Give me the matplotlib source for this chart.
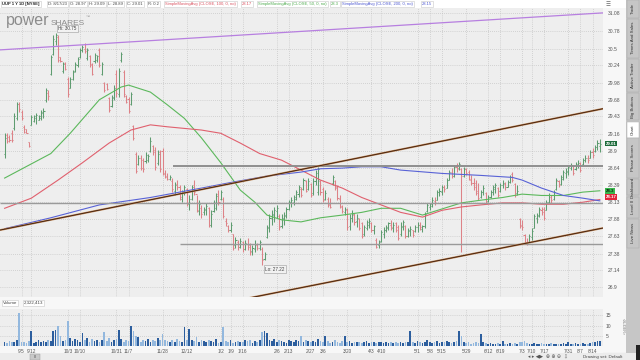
import numpy as np
import pandas as pd
import matplotlib
matplotlib.use('Agg')
import matplotlib.pyplot as plt
from matplotlib.collections import LineCollection
from matplotlib.patches import Rectangle
from matplotlib.ticker import FixedLocator, NullLocator, FixedFormatter

plt.rcParams['font.family'] = ['Liberation Sans', 'DejaVu Sans']

# ---------------- data ----------------
holidays = ['2022-09-05', '2022-11-24', '2022-12-26', '2023-01-02', '2023-01-16',
            '2023-02-20', '2023-04-07', '2023-05-29', '2023-06-19', '2023-07-04']
first_day, last_day = '2022-08-25', '2023-08-17'

opens = [28.85, 29.15, 29.12, 29.18, 29.25, 29.40, 29.62, 29.50, 29.27, 29.23,
         29.03, 29.30, 29.36, 29.40, 29.38, 29.40, 29.48, 29.68, 29.80, 30.10,
         30.42, 30.62, 30.68, 30.36, 30.14, 30.27, 30.02, 29.88, 30.02, 30.15,
         30.24, 30.37, 30.48, 30.50, 30.35, 30.38, 30.25, 30.30, 30.32, 30.48,
         30.10, 29.95, 29.93, 29.72, 29.60, 29.72, 30.10, 29.78, 30.32, 30.12,
         29.75, 29.70, 29.63, 29.28, 28.85, 28.70, 28.80, 28.76, 28.74, 28.76,
         28.90, 28.97, 28.92, 28.72, 28.88, 28.90, 28.55, 28.50, 28.48, 28.45,
         28.30, 28.40, 28.35, 28.18, 28.28, 28.32, 28.10, 28.18, 28.38, 28.25,
         28.00, 28.05, 27.98, 28.02, 28.04, 27.80, 28.00, 28.04, 28.25, 28.18,
         28.18, 27.86, 27.78, 27.72, 27.66, 27.50, 27.55, 27.48, 27.54, 27.45,
         27.52, 27.50, 27.42, 27.45, 27.50, 27.46, 27.45, 27.30, 27.62, 27.75,
         27.90, 27.94, 28.00, 27.92, 27.78, 27.88, 27.92, 28.03, 28.12, 28.14,
         28.18, 28.25, 28.33, 28.33, 28.44, 28.33, 28.40, 28.26, 28.45, 28.28,
         28.44, 28.33, 28.18, 28.18, 28.10, 28.41, 28.44, 28.36, 28.18, 28.06,
         27.98, 28.02, 27.78, 27.90, 27.94, 27.86, 27.88, 27.82, 27.66, 27.75,
         27.80, 27.82, 27.72, 27.58, 27.50, 27.56, 27.66, 27.72, 27.75, 27.80,
         27.75, 27.82,
         27.76, 27.66, 27.76, 27.78, 27.64, 27.70, 27.72,
         27.70, 27.76, 27.80, 27.74, 27.78, 28.00, 28.06, 28.08, 28.15, 28.17,
         28.28, 28.28, 28.35, 28.34, 28.46, 28.58, 28.52, 28.66, 28.64, 28.62,
         28.52, 28.62, 28.58, 28.46, 28.42, 28.42, 28.30, 28.20, 28.28, 28.26,
         28.15, 28.20, 28.28, 28.32, 28.34, 28.30, 28.38, 28.40, 28.36, 28.43,
         28.55, 28.40, 28.26, 27.88, 27.80, 27.65, 27.55, 27.54, 27.62, 27.75,
         27.90, 27.92, 28.02, 28.03, 28.02, 28.13, 28.20, 28.18, 28.32, 28.44,
         28.40, 28.48, 28.56, 28.58, 28.64, 28.67, 28.62, 28.68, 28.72, 28.70,
         28.76, 28.80, 28.80, 28.88, 28.90, 28.96, 28.97]

highs = [29.17, 29.17, 29.14, 29.22, 29.48, 29.66, 29.66, 29.53, 29.29, 29.24,
         29.04, 29.45, 29.45, 29.48, 29.45, 29.53, 29.56, 29.87, 29.84, 30.40,
         30.72, 30.75, 30.72, 30.37, 30.29, 30.29, 30.05, 30.05, 30.16, 30.29,
         30.37, 30.51, 30.56, 30.59, 30.51, 30.40, 30.27, 30.43, 30.40, 30.51,
         30.29, 29.97, 29.95, 29.74, 29.77, 29.92, 30.16, 30.19, 30.45, 30.16,
         29.77, 29.74, 29.81, 29.30, 28.88, 28.84, 28.84, 28.80, 28.88, 28.86,
         29.11, 28.99, 28.96, 28.91, 28.91, 28.94, 28.61, 28.56, 28.53, 28.49,
         28.43, 28.46, 28.39, 28.31, 28.39, 28.34, 28.23, 28.39, 28.46, 28.23,
         28.16, 28.09, 28.06, 28.12, 28.06, 28.01, 28.16, 28.27, 28.31, 28.31,
         28.20, 27.89, 27.80, 27.84, 27.67, 27.62, 27.57, 27.60, 27.56, 27.57,
         27.60, 27.53, 27.50, 27.57, 27.53, 27.57, 27.47, 27.40, 27.80, 27.95,
         28.01, 28.06, 28.09, 27.95, 27.95, 27.98, 28.06, 28.16, 28.20, 28.23,
         28.31, 28.39, 28.36, 28.49, 28.46, 28.49, 28.41, 28.49, 28.61, 28.65,
         28.46, 28.36, 28.31, 28.20, 28.19, 28.53, 28.46, 28.39, 28.23, 28.09,
         28.06, 28.04, 27.95, 28.01, 27.97, 27.95, 27.90, 27.84, 27.80, 27.87,
         27.90, 27.84, 27.80, 27.60, 27.57, 27.72, 27.76, 27.80, 27.84, 27.87,
         27.84, 27.84,
         27.80, 27.84, 27.87, 27.80, 27.75, 27.78, 27.72,
         27.80, 27.84, 27.84, 27.80, 27.98, 28.12, 28.12, 28.20, 28.20, 28.31,
         28.34, 28.39, 28.39, 28.49, 28.61, 28.64, 28.69, 28.72, 28.73, 28.64,
         28.65, 28.64, 28.61, 28.53, 28.49, 28.46, 28.41, 28.31, 28.39, 28.28,
         28.23, 28.31, 28.39, 28.41, 28.36, 28.41, 28.46, 28.43, 28.46, 28.53,
         28.58, 28.41, 28.39, 27.90, 27.87, 27.67, 27.60, 27.67, 27.75, 27.95,
         27.97, 28.06, 28.06, 28.06, 28.16, 28.27, 28.23, 28.31, 28.49, 28.46,
         28.53, 28.61, 28.64, 28.69, 28.72, 28.69, 28.73, 28.76, 28.73, 28.80,
         28.84, 28.84, 28.91, 28.94, 28.99, 29.07, 29.09]

lows = [28.80, 29.02, 29.04, 29.04, 29.22, 29.37, 29.50, 29.37, 29.17, 29.17,
        28.96, 29.29, 29.34, 29.32, 29.37, 29.37, 29.40, 29.66, 29.69, 30.08,
        30.40, 30.56, 30.28, 30.28, 30.11, 30.16, 29.74, 29.87, 30.00, 30.13,
        30.21, 30.35, 30.45, 30.43, 30.32, 30.21, 30.08, 30.27, 30.29, 30.21,
        30.08, 29.81, 29.84, 29.50, 29.58, 29.69, 29.74, 29.74, 30.29, 29.74,
        29.64, 29.48, 29.61, 29.07, 28.56, 28.68, 28.61, 28.58, 28.72, 28.73,
        28.88, 28.84, 28.61, 28.68, 28.58, 28.53, 28.49, 28.46, 28.46, 28.28,
        28.23, 28.31, 28.16, 28.13, 28.23, 28.08, 28.01, 28.16, 28.23, 27.98,
        27.94, 27.89, 27.94, 27.94, 27.76, 27.76, 27.98, 28.01, 28.09, 28.16,
        27.89, 27.78, 27.69, 27.69, 27.43, 27.46, 27.43, 27.46, 27.40, 27.43,
        27.43, 27.36, 27.36, 27.40, 27.43, 27.43, 27.22, 27.29, 27.60, 27.69,
        27.80, 27.84, 27.89, 27.72, 27.75, 27.80, 27.89, 28.01, 28.06, 28.09,
        28.16, 28.20, 28.20, 28.31, 28.28, 28.31, 28.20, 28.23, 28.39, 28.23,
        28.23, 28.13, 28.16, 28.06, 28.04, 28.39, 28.31, 28.16, 28.04, 27.97,
        27.94, 27.72, 27.72, 27.84, 27.80, 27.76, 27.72, 27.60, 27.64, 27.72,
        27.75, 27.69, 27.67, 27.46, 27.46, 27.54, 27.60, 27.69, 27.72, 27.72,
        27.69, 27.69,
        27.57, 27.64, 27.72, 27.60, 27.62, 27.64, 27.62,
        27.69, 27.69, 27.72, 27.69, 27.75, 27.98, 28.01, 28.06, 28.09, 28.16,
        28.22, 28.23, 28.28, 28.34, 28.46, 28.49, 28.50, 28.58, 28.61, 27.40,
        28.50, 28.53, 28.46, 28.39, 28.31, 28.23, 28.16, 28.19, 28.23, 28.12,
        28.13, 28.19, 28.23, 28.26, 28.20, 28.28, 28.34, 28.31, 28.35, 28.41,
        28.43, 28.20, 28.23, 27.75, 27.72, 27.52, 27.50, 27.54, 27.57, 27.75,
        27.83, 27.91, 27.94, 27.87, 28.01, 28.12, 28.12, 28.16, 28.31, 28.35,
        28.39, 28.46, 28.49, 28.53, 28.61, 28.53, 28.61, 28.64, 28.58, 28.69,
        28.73, 28.72, 28.79, 28.80, 28.88, 28.91, 28.89]

closes = [29.10, 29.05, 29.06, 29.06, 29.44, 29.62, 29.55, 29.40, 29.19, 29.18,
          28.98, 29.42, 29.43, 29.45, 29.44, 29.50, 29.52, 29.84, 29.75, 30.36,
          30.65, 30.72, 30.32, 30.30, 30.26, 30.18, 29.78, 30.02, 30.13, 30.26,
          30.34, 30.48, 30.52, 30.46, 30.48, 30.24, 30.10, 30.40, 30.38, 30.24,
          30.26, 29.84, 29.86, 29.53, 29.74, 29.88, 29.80, 30.14, 30.42, 29.78,
          29.66, 29.52, 29.78, 29.10, 28.59, 28.80, 28.64, 28.62, 28.84, 28.83,
          29.05, 28.88, 28.65, 28.86, 28.62, 28.56, 28.52, 28.48, 28.51, 28.32,
          28.38, 28.35, 28.20, 28.28, 28.36, 28.12, 28.18, 28.35, 28.28, 28.02,
          28.10, 27.95, 28.03, 28.08, 27.80, 27.96, 28.12, 28.22, 28.14, 28.28,
          27.92, 27.82, 27.72, 27.80, 27.46, 27.58, 27.48, 27.56, 27.44, 27.53,
          27.48, 27.40, 27.46, 27.52, 27.46, 27.54, 27.28, 27.38, 27.76, 27.90,
          27.96, 28.02, 28.05, 27.76, 27.90, 27.94, 28.03, 28.13, 28.16, 28.20,
          28.28, 28.35, 28.24, 28.46, 28.30, 28.44, 28.24, 28.45, 28.56, 28.62,
          28.28, 28.16, 28.26, 28.09, 28.06, 28.50, 28.34, 28.19, 28.07, 28.00,
          28.03, 27.76, 27.90, 27.96, 27.84, 27.90, 27.75, 27.64, 27.76, 27.84,
          27.86, 27.72, 27.78, 27.48, 27.54, 27.69, 27.72, 27.76, 27.82, 27.76,
          27.80, 27.72,
          27.60, 27.78, 27.84, 27.63, 27.72, 27.74, 27.65,
          27.77, 27.80, 27.76, 27.78, 27.95, 28.09, 28.10, 28.17, 28.12, 28.28,
          28.30, 28.36, 28.32, 28.46, 28.58, 28.52, 28.66, 28.62, 28.70, 28.52,
          28.62, 28.56, 28.48, 28.42, 28.36, 28.26, 28.19, 28.28, 28.34, 28.14,
          28.20, 28.28, 28.35, 28.38, 28.23, 28.38, 28.42, 28.35, 28.43, 28.50,
          28.46, 28.24, 28.30, 27.78, 27.76, 27.55, 27.52, 27.64, 27.70, 27.92,
          27.94, 28.03, 27.98, 27.90, 28.13, 28.24, 28.16, 28.28, 28.46, 28.38,
          28.50, 28.58, 28.60, 28.66, 28.68, 28.56, 28.70, 28.72, 28.61, 28.77,
          28.80, 28.76, 28.88, 28.84, 28.96, 29.02, 29.01]

# volume in millions of shares
volumes = [2.0, 1.5, 2.5, 1.8, 2.2, 3.0, 16.0, 1.8, 2.0, 1.5,
           2.5, 7.5, 1.5, 2.0, 3.0, 1.8, 2.5, 2.0, 3.0, 2.5,
           7.5, 7.8, 10.0, 5.0, 2.5, 3.0, 12.0, 4.0, 2.5, 3.5,
           3.0, 2.0, 6.5, 3.0, 4.0, 2.0, 3.5, 2.5, 3.0, 2.0,
           3.0, 7.0, 2.5, 4.0, 2.0, 3.0, 3.5, 8.0, 3.5, 2.0,
           3.0, 2.5, 10.0, 7.5, 5.0, 4.5, 2.0, 3.0, 2.5, 3.5,
           2.0, 3.0, 2.5, 4.0, 3.0, 6.0, 3.0, 2.5, 2.0, 3.0,
           2.0, 3.5, 2.5, 2.0, 9.5, 3.0, 8.5, 3.0, 2.5, 4.5,
           2.0, 3.0, 2.5, 2.0, 3.0, 2.5, 2.0, 3.5, 1.5, 2.0,
           9.5, 2.5, 2.0, 3.0, 1.5, 2.0, 2.5, 1.8, 2.0, 3.0,
           2.5, 3.0, 1.5, 2.5, 2.0, 3.0, 7.0, 7.5, 6.5, 3.0,
           2.5, 3.5, 2.0, 3.0, 2.5, 2.0, 1.5, 3.0, 2.5, 2.0,
           3.0, 2.5, 5.0, 2.0, 3.0, 2.5, 1.8, 2.5, 2.0, 3.5,
           2.5, 2.0, 5.0, 2.5, 1.5, 2.0, 3.0, 2.0, 1.5, 2.5,
           5.0, 2.0, 2.5, 1.5, 2.0, 1.8, 2.2, 1.5, 2.0, 2.5,
           1.5, 1.8, 2.0, 1.5, 2.2, 1.8, 1.5, 2.0, 1.5, 1.8,
           1.5, 1.8,
           1.5, 2.0, 1.5, 1.8, 2.0, 7.5, 2.0,
           1.5, 2.5, 1.8, 1.5, 2.0, 3.0, 2.0, 1.5, 2.0, 2.5,
           1.5, 1.8, 2.0, 2.5, 2.0, 1.5, 2.0, 2.5, 7.5, 5.0,
           2.0, 1.5, 1.8, 1.2, 1.5, 2.0, 1.5, 6.0, 2.0, 1.5,
           1.2, 1.5, 1.0, 1.2, 1.5, 1.0, 2.5, 1.2, 1.0, 1.5,
           1.2, 1.5, 1.0, 2.0, 1.8, 2.5, 1.5, 1.2, 1.0, 1.5,
           1.2, 1.0, 1.5, 1.2, 1.0, 1.2, 1.5, 1.0, 0.8, 1.2,
           1.0, 1.5, 1.2, 1.8, 1.0, 1.2, 1.5, 1.0, 1.2, 1.5,
           1.2, 1.0, 1.5, 2.0, 1.8, 2.5, 2.32]

# moving averages read at sample bars (bar index, value)
sma50_idx = [0, 19, 27, 39, 48, 51, 60, 67, 74, 81, 89, 97, 103, 108, 114, 122, 130,
             139, 147, 155, 163, 172, 180, 188, 196, 205, 213, 221, 230, 238, 245]
sma50_val = [28.49, 28.86, 29.17, 29.69, 29.89, 29.92, 29.81, 29.61, 29.40, 29.10, 28.72,
             28.31, 28.13, 27.94, 27.87, 27.84, 27.90, 27.94, 27.98, 28.04, 28.04, 27.94,
             28.03, 28.12, 28.16, 28.20, 28.25, 28.23, 28.23, 28.28, 28.30]
sma100_idx = [0, 11, 22, 32, 43, 52, 60, 67, 81, 89, 97, 105, 114, 122, 130, 139, 147,
              155, 163, 172, 180, 188, 196, 205, 213, 221, 230, 238, 245]
sma100_val = [28.04, 28.19, 28.46, 28.72, 29.02, 29.22, 29.30, 29.27, 29.22, 29.17, 29.02,
              28.86, 28.76, 28.61, 28.46, 28.34, 28.20, 28.09, 27.98, 27.91, 28.01, 28.06,
              28.09, 28.12, 28.12, 28.10, 28.10, 28.13, 28.17]
sma200_idx = [0, 19, 39, 60, 81, 94, 108, 122, 130, 139, 147, 155, 163, 180, 196, 209,
              213, 221, 230, 238, 245]
sma200_val = [27.74, 27.90, 28.09, 28.20, 28.34, 28.43, 28.52, 28.58, 28.63, 28.64, 28.66,
              28.66, 28.61, 28.56, 28.53, 28.50, 28.46, 28.34, 28.23, 28.19, 28.15]

# drawings (bar index, price)
channel_upper = [(-1.9, 27.72), (246.3, 29.55)]
channel_lower = [(99.7, 26.74), (246.3, 27.75)]
purple_line = [(-1.9, 30.48), (246.3, 31.08)]
level_lines = [(69.3, 28.67), (-1.9, 28.12), (72.2, 27.52)]

price_ticks = [26.9, 27.14, 27.38, 27.63, 27.88, 28.13, 28.39, 28.64, 28.9, 29.16,
               29.43, 29.68, 29.96, 30.24, 30.5, 30.78, 31.08]
price_tick_labels = ['26.9', '27.14', '27.38', '27.63', '27.88', '28.13', '28.39', '28.64',
                     '28.9', '29.16', '29.43', '29.68', '29.98', '30.24', '30.5', '30.78',
                     '31.08']
date_labels = ['9/5', '9/12', '10/3', '10/10', '10/31', '11/7', '11/28', '12/12', '1/2',
               '1/9', '1/16', '2/6', '2/13', '2/27', '3/6', '3/20', '4/3', '4/10', '5/1',
               '5/8', '5/15', '5/29', '6/12', '6/19', '7/3', '7/10', '7/17', '7/31', '8/7',
               '8/14']
date_years = [2022] * 8 + [2023] * 22
vol_ticks = [5, 10, 15]

# ---------------- layout helpers ----------------
W, H = 640, 360
fig = plt.figure(figsize=(6.4, 3.6), dpi=100)
fig.patch.set_facecolor('#f3f3f3')


def rect(x0, y0, x1, y1):
    return [x0 / W, 1 - y1 / H, (x1 - x0) / W, (y1 - y0) / H]


def frect(x0, y0, x1, y1, fc, ec='none', lw=0.0, z=0):
    fig.add_artist(Rectangle((x0 / W, 1 - y1 / H), (x1 - x0) / W, (y1 - y0) / H,
                             transform=fig.transFigure, fc=fc, ec=ec, lw=lw, zorder=z))


def ftext(x, y, s, **kw):
    fig.text(x / W, 1 - y / H, s, **kw)


n = min(len(opens), len(highs), len(lows), len(closes), len(volumes))
idx = np.arange(n)
o = np.array(opens[:n]); h = np.array(highs[:n]); l = np.array(lows[:n]); c = np.array(closes[:n])
v = np.array(volumes[:n])
up = c >= o

dates = pd.bdate_range(first_day, last_day)
dates = dates[~dates.isin(pd.to_datetime(holidays))]
label_pos = []
for lab, yr in zip(date_labels, date_years):
    m, d = lab.split('/')
    dt = pd.Timestamp(year=yr, month=int(m), day=int(d))
    label_pos.append(int(np.searchsorted(dates.values, np.datetime64(dt))))

XLIM = (-1.9, 246.3)

# background panels
frect(0, 0, 626, 8, '#ffffff', z=0)
frect(603, 8, 626, 352, '#f7f7f7', z=0)
frect(0, 297, 603, 309, '#f7f7f7', z=0)
frect(0, 346, 603, 353, '#f7f7f7', z=0)
frect(0, 353, 640, 360, '#ececec', z=0)
frect(626, 0, 640, 353, '#c6c6c6', z=0)

# ---------------- price pane ----------------
ax = fig.add_axes(rect(0, 8, 603, 297))
ax.set_facecolor('#eeeeee')
ax.set_yscale('log')
ax.set_ylim(26.76, 31.16)
ax.set_xlim(*XLIM)
for s in ax.spines.values():
    s.set_visible(False)
ax.yaxis.tick_right()
ax.yaxis.set_major_locator(FixedLocator(price_ticks))
ax.yaxis.set_major_formatter(FixedFormatter(price_tick_labels))
ax.yaxis.set_minor_locator(NullLocator())
ax.tick_params(axis='y', length=0, pad=3.5, labelsize=3.6, labelcolor='#555555')
ax.set_xticks(label_pos)
ax.tick_params(axis='x', length=0, labelbottom=False)
ax.grid(True, color='#b8b8b8', lw=0.5, ls=(0, (1, 2)))

green_bar, red_bar = '#5e9c70', '#dd8287'
segs, cols = [], []
for i in range(n):
    col = green_bar if up[i] else red_bar
    segs.append([(i, l[i]), (i, h[i])])
    segs.append([(i - 0.45, o[i]), (i, o[i])])
    segs.append([(i, c[i]), (i + 0.45, c[i])])
    cols += [col, col, col]
ax.add_collection(LineCollection(segs, colors=cols, linewidths=0.75, zorder=3))

ax.plot(sma50_idx, sma50_val, color='#5cb85c', lw=0.8, zorder=4)
ax.plot(sma100_idx, sma100_val, color='#e0606e', lw=0.8, zorder=4)
ax.plot(sma200_idx, sma200_val, color='#5862d6', lw=0.8, zorder=4)

# horizontal levels
for (x0, yv), lw_, colr in zip(level_lines, [1.4, 1.0, 1.0], ['#8f8f8f', '#9a9a9a', '#9a9a9a']):
    ax.plot([x0, XLIM[1]], [yv, yv], color=colr, lw=lw_, zorder=5, solid_capstyle='butt')

# trend channel + purple line
for line in (channel_upper, channel_lower):
    xs, ys = zip(*line)
    ax.plot(xs, ys, color='#c08858', lw=1.35, zorder=6, solid_capstyle='butt')
    ax.plot(xs, ys, color='#3a1a0a', lw=0.6, zorder=7, solid_capstyle='butt')
xs, ys = zip(*purple_line)
ax.plot(xs, ys, color='#b77fe0', lw=0.9, zorder=6)

# price tags on the axis
for val, txt, fc, tc, dy in [(closes[n - 1], f'{closes[n - 1]:.2f}', '#1d6b3b', 'white', 0.0),
                             (sma50_val[-1], '28.3', '#38b84c', '#0b2a10', -0.2),
                             (sma100_val[-1], f'{sma100_val[-1]:.2f}', '#e2243a', 'white', 1.9)]:
    ax.annotate(txt, xy=(1.0, val), xycoords=ax.get_yaxis_transform(),
                xytext=(2.0, dy), textcoords='offset points', ha='left', va='center',
                fontsize=3.2, fontweight='bold', color=tc, annotation_clip=False,
                bbox=dict(boxstyle='square,pad=0.15', fc=fc, ec='none'), zorder=10)

# Hi / Lo markers
hi_i = int(np.argmax(h)); lo_i = int(np.argmin(l))
ax.annotate(f'Hi: {h[hi_i]:.2f}', xy=(hi_i, h[hi_i]), xytext=(2, 1.5), textcoords='offset points',
            ha='left', va='bottom', fontsize=3.3, color='#444444',
            bbox=dict(boxstyle='square,pad=0.3', fc='#f2f2f2', ec='#9a9a9a', lw=0.4), zorder=9)
ax.annotate(f'Lo: {l[lo_i]:.2f}', xy=(lo_i, l[lo_i]), xytext=(2, -1.5), textcoords='offset points',
            ha='left', va='top', fontsize=3.3, color='#444444',
            bbox=dict(boxstyle='square,pad=0.3', fc='#f2f2f2', ec='#9a9a9a', lw=0.4), zorder=9)

# watermark
ftext(6, 25, 'power', fontsize=11.5, color='#8c8c8c', va='baseline', ha='left', zorder=2)
ftext(51, 25, 'SHARES', fontsize=6.0, color='#8c8c8c', va='baseline', ha='left', zorder=2)
ftext(86, 18, '\u2122', fontsize=3, color='#8c8c8c', va='baseline', ha='left', zorder=2)

# ---------------- volume pane ----------------
axv = fig.add_axes(rect(0, 309, 603, 346))
axv.set_facecolor('#eeeeee')
axv.set_xlim(*XLIM)
axv.set_ylim(0, 18.1)
for s in axv.spines.values():
    s.set_visible(False)
vcols = np.where(up, '#2c5e9e', '#93b8de')
axv.bar(idx, v, width=0.7, color=vcols, zorder=3)
axv.yaxis.tick_right()
axv.set_yticks(vol_ticks)
axv.set_yticklabels([str(t) for t in vol_ticks])
axv.tick_params(axis='y', length=0, pad=2.0, labelsize=3.6, labelcolor='#555555')
axv.set_xticks(label_pos)
axv.set_xticklabels(date_labels)
axv.tick_params(axis='x', length=0, pad=2.0, labelsize=3.4, labelcolor='#555555')
axv.grid(True, color='#b8b8b8', lw=0.5, ls=(0, (1, 2)))

# ---------------- header ----------------
hbox = dict(boxstyle='square,pad=0.25', fc='white', ec='#c8c8c8', lw=0.4)
hdr = [(2, 'UUP 1 Y 1D [NYSE]', '#222222'), (48, 'D: 8/17/23', '#444444'),
       (70, 'O: 28.97', '#444444'), (89, 'H: 29.09', '#444444'), (108, 'L: 28.89', '#444444'),
       (127, 'C: 29.01', '#444444'), (148, 'R: 0.2', '#444444'),
       (165, 'SimpleMovingAvg (CLOSE, 100, 0, no)', '#d9505e'), (242, '28.17', '#d9505e'),
       (258, 'SimpleMovingAvg (CLOSE, 50, 0, no)', '#4caa4c'), (331, '28.3', '#4caa4c'),
       (342, 'SimpleMovingAvg (CLOSE, 200, 0, no)', '#4a55d0'), (422, '28.15', '#4a55d0')]
for x, s, colr in hdr:
    ftext(x, 4.3, s, fontsize=3.0, color=colr, va='center', ha='left', bbox=hbox,
          fontweight='bold' if x == 2 else 'normal', zorder=5)
ftext(606, 4.5, '\u2630', fontsize=4, color='#666666', va='center', ha='left', zorder=5,
      family=['DejaVu Sans'])

# volume header
ftext(3, 303, 'Volume', fontsize=3.2, color='#444444', va='center', ha='left', bbox=hbox, zorder=5)
ftext(24, 303, '2,322,413', fontsize=3.2, color='#444444', va='center', ha='left', bbox=hbox, zorder=5)
ftext(623, 327, '<SLIDER>', fontsize=2.6, color='#777777', rotation=270, va='center', ha='center', zorder=5)

# ---------------- right tabs ----------------
tabs = [('Trade', 0, 18), ('Times And Sales', 18, 58), ('Active Trader', 58, 92),
        ('Big Buttons', 92, 121), ('Chart', 121, 138), ('Phase Scores', 138, 178),
        ('Dashboard', 178, 196), ('Level II', 196, 218), ('Live News', 218, 248)]
for name, y0, y1 in tabs:
    fc = '#ffffff' if name == 'Chart' else '#c6c6c6'
    frect(627, y0 + 0.5, 639, y1 - 0.5, fc, ec='#a8a8a8', lw=0.3, z=1)
    ftext(633, (y0 + y1) / 2, name, fontsize=3.2, color='#333333', rotation=90,
          va='center', ha='center', zorder=5)
frect(636, 345, 640, 360, '#222222', z=2)

# ---------------- bottom bar ----------------
frect(30, 354, 40, 359.5, '#c8c8c8', ec='#999999', lw=0.3, z=2)
ftext(35, 356.8, '\u2161', fontsize=3, color='#555555', va='center', ha='center', zorder=5,
      family=['DejaVu Sans'])
ftext(528, 356.8, '\u25c2 \u25b8 \u25c0\u25b6  \u2295 \u2295 \u2296  \u21e9', fontsize=3.4,
      color='#555555', va='center', ha='left', zorder=5, family=['DejaVu Sans'])
ftext(583, 356.8, 'Drawing set: Default', fontsize=3.2, color='#444444', va='center',
      ha='left', zorder=5)

fig.savefig('out.png', dpi=100, facecolor=fig.get_facecolor())
